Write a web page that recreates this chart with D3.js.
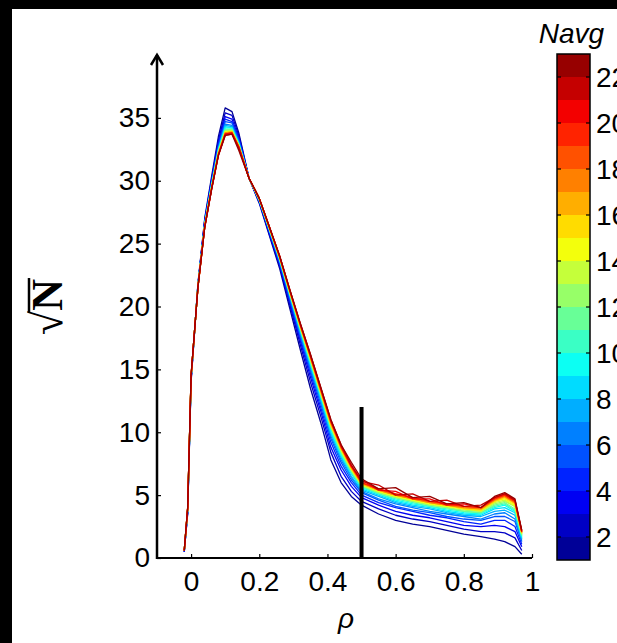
<!DOCTYPE html>
<html><head><meta charset="utf-8">
<script src="https://cdn.jsdelivr.net/npm/d3@7"></script>
<style>body{margin:0;background:#fff}svg{display:block}</style>
</head><body>
<svg id="c" width="617" height="643"></svg>
<script>
// rho grid (x values shared by all curves)
const rho = [-0.02,-0.01,0,0.02,0.04,0.06,0.08,0.10,0.12,0.14,0.17,0.20,0.23,0.26,0.29,0.32,0.35,0.38,0.41,0.44,0.47,0.50,0.55,0.60,0.65,0.70,0.75,0.80,0.85,0.89,0.92,0.95,0.97];
// sqrt(N) for each Navg level
const n01 = [0.5,3.5,14.0,21.8,27.0,30.3,33.5,35.8,35.5,33.8,30.2,28.2,25.6,23.0,19.8,16.6,13.5,10.8,7.8,6.0,4.9,4.2,3.5,3.0,2.7,2.5,2.2,1.9,1.7,1.5,1.3,0.9,0.3];
const n02 = [0.5,3.6,14.1,21.7,26.9,30.1,33.2,35.4,35.2,33.6,30.2,28.3,25.7,23.2,20.1,17.0,14.0,11.3,8.4,6.5,5.3,4.5,3.9,3.4,3.1,2.9,2.6,2.3,2.1,2.1,2.0,1.6,0.6];
const n03 = [0.5,3.7,14.2,21.7,26.8,30.0,33.0,35.1,34.9,33.4,30.2,28.3,25.8,23.3,20.3,17.3,14.4,11.7,8.8,7.0,5.7,4.8,4.2,3.7,3.4,3.2,2.9,2.6,2.5,2.6,2.5,2.1,0.9];
const n04 = [0.5,3.7,14.2,21.7,26.7,29.9,32.9,34.9,34.7,33.3,30.2,28.4,25.9,23.4,20.4,17.5,14.7,12.0,9.2,7.3,6.0,5.0,4.4,4.0,3.7,3.4,3.2,2.9,2.7,3.0,3.0,2.5,1.1];
const n05 = [0.6,3.8,14.3,21.6,26.6,29.8,32.7,34.7,34.6,33.2,30.2,28.4,26.0,23.5,20.6,17.7,14.9,12.3,9.5,7.6,6.2,5.2,4.6,4.1,3.8,3.6,3.3,3.1,3.0,3.3,3.3,2.9,1.3];
const n06 = [0.6,3.8,14.3,21.6,26.6,29.7,32.6,34.5,34.4,33.1,30.2,28.4,26.0,23.6,20.7,17.8,15.1,12.5,9.7,7.8,6.4,5.3,4.7,4.3,4.0,3.7,3.5,3.3,3.1,3.5,3.6,3.1,1.4];
const n07 = [0.6,3.8,14.3,21.6,26.6,29.7,32.5,34.4,34.3,33.0,30.2,28.5,26.1,23.7,20.8,18.0,15.3,12.6,9.9,8.0,6.5,5.4,4.9,4.4,4.1,3.9,3.6,3.4,3.3,3.7,3.8,3.4,1.5];
const n08 = [0.6,3.9,14.4,21.6,26.5,29.6,32.5,34.3,34.2,33.0,30.2,28.5,26.1,23.7,20.9,18.1,15.4,12.8,10.0,8.1,6.7,5.5,5.0,4.5,4.2,4.0,3.7,3.5,3.4,3.9,4.0,3.6,1.6];
const n09 = [0.6,3.9,14.4,21.6,26.5,29.6,32.4,34.2,34.2,32.9,30.2,28.5,26.1,23.7,20.9,18.2,15.5,12.9,10.2,8.2,6.8,5.6,5.1,4.6,4.3,4.1,3.8,3.6,3.5,4.0,4.2,3.7,1.7];
const n10 = [0.6,3.9,14.4,21.6,26.5,29.5,32.4,34.1,34.1,32.9,30.2,28.5,26.1,23.8,21.0,18.2,15.6,13.0,10.3,8.3,6.8,5.7,5.1,4.7,4.4,4.1,3.9,3.7,3.6,4.1,4.3,3.8,1.8];
const n11 = [0.6,3.9,14.4,21.6,26.4,29.5,32.3,34.0,34.1,32.8,30.2,28.5,26.2,23.8,21.0,18.3,15.7,13.0,10.4,8.4,6.9,5.7,5.2,4.8,4.5,4.2,4.0,3.7,3.6,4.2,4.4,3.9,1.8];
const n12 = [0.6,3.9,14.4,21.6,26.4,29.5,32.3,34.0,34.0,32.8,30.2,28.5,26.2,23.8,21.0,18.3,15.7,13.1,10.5,8.5,7.0,5.8,5.2,4.8,4.5,4.2,4.0,3.8,3.7,4.3,4.5,4.1,1.9];
const n13 = [0.6,3.9,14.4,21.6,26.4,29.5,32.2,33.9,34.0,32.8,30.2,28.5,26.2,23.9,21.1,18.4,15.8,13.2,10.5,8.6,7.0,5.8,5.3,4.9,4.6,4.3,4.1,3.9,3.7,4.4,4.6,4.1,1.9];
const n14 = [0.6,3.9,14.4,21.5,26.4,29.4,32.2,33.9,33.9,32.8,30.2,28.6,26.2,23.9,21.1,18.4,15.9,13.2,10.6,8.6,7.1,5.9,5.3,4.9,4.6,4.3,4.1,3.9,3.8,4.5,4.7,4.2,2.0];
const n15 = [0.6,3.9,14.4,21.5,26.4,29.4,32.2,33.8,33.9,32.7,30.2,28.6,26.2,23.9,21.1,18.5,15.9,13.3,10.6,8.7,7.1,5.9,5.4,5.0,4.7,4.4,4.2,3.9,3.8,4.5,4.8,4.3,2.0];
const n16 = [0.6,4.0,14.5,21.5,26.4,29.4,32.1,33.8,33.9,32.7,30.2,28.6,26.2,23.9,21.2,18.5,16.0,13.3,10.7,8.7,7.2,5.9,5.4,5.0,4.7,4.4,4.2,4.0,3.9,4.6,4.9,4.4,2.0];
const n17 = [0.6,4.0,14.5,21.5,26.4,29.4,32.1,33.8,33.8,32.7,30.2,28.6,26.3,23.9,21.2,18.5,16.0,13.4,10.8,8.8,7.2,6.0,5.4,5.0,4.7,4.4,4.2,4.0,3.9,4.6,4.9,4.4,2.1];
const n18 = [0.6,4.0,14.5,21.5,26.3,29.4,32.1,33.7,33.8,32.7,30.2,28.6,26.3,23.9,21.2,18.6,16.0,13.4,10.8,8.8,7.3,6.0,5.5,5.1,4.8,4.5,4.3,4.1,4.0,4.7,5.0,4.5,2.1];
const n19 = [0.6,4.0,14.5,21.5,26.3,29.3,32.1,33.7,33.8,32.7,30.2,28.6,26.3,24.0,21.2,18.6,16.1,13.5,10.9,8.9,7.3,6.0,5.5,5.1,4.8,4.5,4.3,4.1,4.0,4.7,5.0,4.5,2.1];
const n20 = [0.6,4.0,14.5,21.5,26.3,29.3,32.0,33.7,33.8,32.6,30.2,28.6,26.3,24.0,21.3,18.6,16.1,13.5,10.9,8.9,7.3,6.2,5.4,5.3,4.7,4.7,4.2,4.3,4.0,4.8,5.1,4.6,2.1];
const n21 = [0.6,4.0,14.5,21.5,26.3,29.3,32.0,33.6,33.7,32.6,30.2,28.6,26.3,24.0,21.3,18.7,16.2,13.6,11.0,9.0,7.4,6.1,5.8,5.0,5.1,4.5,4.6,4.1,4.2,4.8,5.1,4.6,2.2];
const n22 = [0.6,4.0,14.5,21.5,26.3,29.3,32.0,33.6,33.7,32.4,30.2,28.6,26.3,24.0,21.3,18.7,16.2,13.6,11.0,9.0,7.6,6.3,5.5,5.6,4.8,4.9,4.3,4.4,4.0,4.9,5.2,4.7,2.2];
const navgLevels = [1,2,3,4,5,6,7,8,9,10,11,12,13,14,15,16,17,18,19,20,21,22];
const curves = [n01,n02,n03,n04,n05,n06,n07,n08,n09,n10,n11,n12,n13,n14,n15,n16,n17,n18,n19,n20,n21,n22];
const xTicks = [0,0.2,0.4,0.6,0.8,1];
const yTicks = [0,5,10,15,20,25,30,35];
const cbTicks = [2,4,6,8,10,12,14,16,18,20,22];
const markerRho = 0.5, markerTop = 12;

const FONT = "'Liberation Sans', Arial, sans-serif";
function jet(t){
  const c = v => Math.round(255*Math.max(0, Math.min(1, v)));
  return `rgb(${c(1.5-Math.abs(4*t-3))},${c(1.5-Math.abs(4*t-2))},${c(1.5-Math.abs(4*t-1))})`;
}
const nLev = navgLevels.length;
const colorOf = k => jet((k - 0.5) / nLev);

const svg = d3.select('#c');
svg.append('rect').attr('width',617).attr('height',643).attr('fill','#000');
svg.append('rect').attr('x',12).attr('y',9).attr('width',605).attr('height',634).attr('fill','#fff');

const x = d3.scaleLinear().domain([-0.1,1]).range([157,532]);
const y = d3.scaleLinear().domain([0,40]).range([558,55]);

// curves
const line = d3.line().x((d,i)=>x(rho[i])).y(d=>y(d));
svg.append('g').selectAll('path').data(curves).join('path')
  .attr('d', line).attr('fill','none')
  .attr('stroke', (d,i)=>colorOf(navgLevels[i]))
  .attr('stroke-width',1.3).attr('stroke-linejoin','round');

// marker line
svg.append('line').attr('x1',x(markerRho)).attr('x2',x(markerRho))
  .attr('y1',y(0)).attr('y2',y(markerTop)).attr('stroke','#000').attr('stroke-width',4);

// axes
const gx = svg.append('g').attr('transform',`translate(0,${y(0)})`)
  .call(d3.axisBottom(x).tickValues(xTicks).tickSize(-4).tickPadding(13).tickFormat(d=>String(d)));
const gy = svg.append('g').attr('transform',`translate(${x(-0.1)},0)`)
  .call(d3.axisLeft(y).tickValues(yTicks).tickSize(-4).tickPadding(7).tickFormat(d=>String(d)));
[gx,gy].forEach(g=>{
  g.select('.domain').remove();
  g.selectAll('.tick line').attr('stroke','#000').attr('stroke-width',1.2);
  g.selectAll('.tick text').attr('font-family',FONT).attr('font-size',28).attr('fill','#000');
});
svg.append('line').attr('x1',x(-0.1)).attr('x2',x(1)).attr('y1',y(0)).attr('y2',y(0))
  .attr('stroke','#000').attr('stroke-width',2);
svg.append('line').attr('x1',x(-0.1)).attr('x2',x(-0.1)).attr('y1',y(0)+1).attr('y2',y(40))
  .attr('stroke','#000').attr('stroke-width',2.5);
const ax = x(-0.1), ay = y(40);
svg.append('path').attr('d',`M${ax-6},${ay+10}L${ax},${ay}L${ax+6},${ay+10}`)
  .attr('fill','none').attr('stroke','#000').attr('stroke-width',2.5);

// axis labels
svg.append('text').attr('x',346).attr('y',628).attr('text-anchor','middle')
  .attr('font-family',FONT).attr('font-style','italic').attr('font-size',28).text('ρ');
const ylg = svg.append('g').attr('transform','translate(62,307) rotate(-90)');
const yl = ylg.append('text').attr('text-anchor','middle')
  .attr('font-family',"'Liberation Serif', 'Times New Roman', serif")
  .attr('font-weight','bold').attr('font-size',44);
yl.append('tspan').text('√');
yl.append('tspan').text('N');
{
  const node = yl.node();
  const s0 = node.getStartPositionOfChar(1), e1 = node.getEndPositionOfChar(1);
  ylg.append('line').attr('x1',s0.x-2).attr('x2',e1.x+1).attr('y1',-33).attr('y2',-33)
    .attr('stroke','#000').attr('stroke-width',2.5);
}

// colorbar
const cb = d3.scaleLinear().domain([1,23]).range([560,54]);
const cbx = 557, cbw = 33;
svg.append('g').selectAll('rect').data(navgLevels).join('rect')
  .attr('x',cbx).attr('width',cbw)
  .attr('y',d=>cb(d+1)).attr('height',d=>cb(d)-cb(d+1))
  .attr('fill',d=>colorOf(d)).attr('shape-rendering','crispEdges');
svg.append('rect').attr('x',cbx).attr('y',cb(23)).attr('width',cbw).attr('height',cb(1)-cb(23))
  .attr('fill','none').attr('stroke','#000').attr('stroke-width',1.5);
const cbt = svg.append('g').selectAll('g').data(cbTicks).join('g');
cbt.append('line').attr('x1',cbx).attr('x2',cbx+4).attr('y1',d=>cb(d)).attr('y2',d=>cb(d)).attr('stroke','#000').attr('stroke-width',1.2);
cbt.append('line').attr('x1',cbx+cbw).attr('x2',cbx+cbw-4).attr('y1',d=>cb(d)).attr('y2',d=>cb(d)).attr('stroke','#000').attr('stroke-width',1.2);
cbt.append('text').attr('x',cbx+cbw+6).attr('y',d=>cb(d)).attr('dy','0.36em')
  .attr('font-family',FONT).attr('font-size',28).text(d=>d);
svg.append('text').attr('x',cbx+cbw/2-2).attr('y',43).attr('text-anchor','middle')
  .attr('font-family',FONT).attr('font-style','italic').attr('font-size',28).text('Navg');
</script>
</body></html>
